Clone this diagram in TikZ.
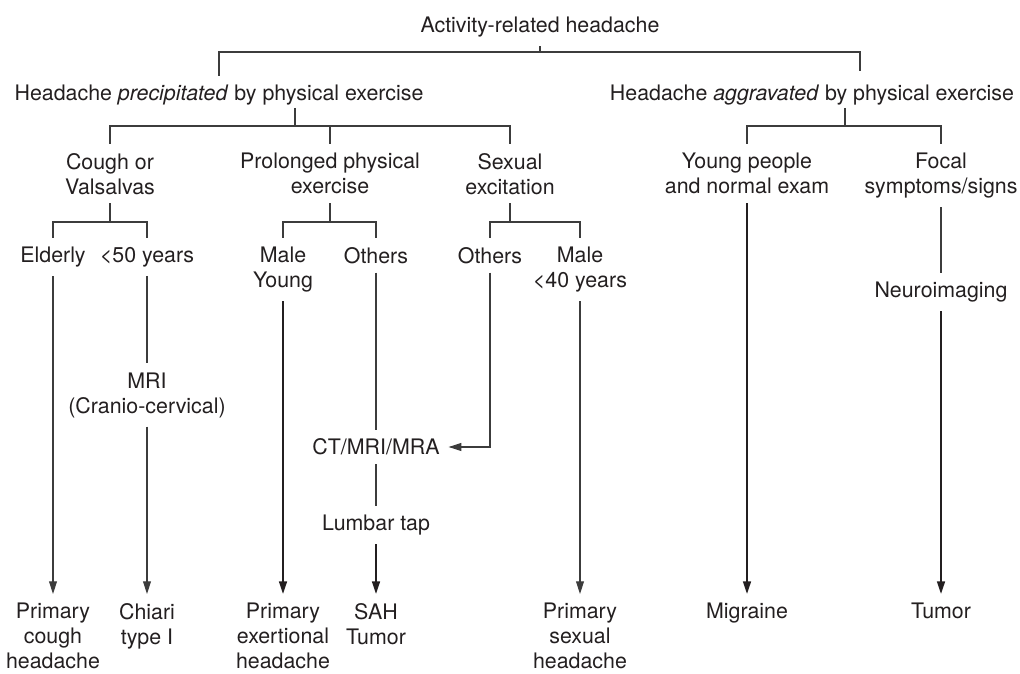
\documentclass[tikz,border=0pt]{standalone}
\usepackage{fontspec}
\setmainfont{TeX Gyre Heros}
\usepackage{tikz}
\usetikzlibrary{arrows.meta,positioning}
\definecolor{ink}{HTML}{231F20}
\definecolor{inkgray}{HTML}{3C3C3C}
\tikzset{
  lbl/.style={align=center,inner sep=0.22cm,text=ink,
              font=\fontsize{15.2}{17.8}\selectfont},
  outcome/.style={lbl,anchor=north},
  tree/.style={draw=inkgray,line width=0.75pt},
  arr/.style={tree,-{Triangle[length=9pt,width=5.6pt]}},
  boldarr/.style={arr,draw=ink,line width=1.4pt}
}
\begin{document}
\begin{tikzpicture}[x=0.025cm,y=-0.025cm]
  \path[use as bounding box] (0,0) rectangle (1020,674);
  % top two levels
  \node[lbl] (act) at (540,27) {Activity-related headache};
  \node[lbl] (pre) at (219,95) {Headache \textit{precipitated} by physical exercise};
  \node[lbl] (agg) at (812,95) {Headache \textit{aggravated} by physical exercise};
  % kinds of exercise / patients
  \node[outcome] (cgh) at (110,144) {Cough or\\Valsalvas};
  \node[outcome] (pro) at (330,144) {Prolonged physical\\exercise};
  \node[outcome] (sex) at (510,144) {Sexual\\excitation};
  \node[outcome] (yng) at (747,144) {Young people\\and normal exam};
  \node[outcome] (foc) at (941,144) {Focal\\symptoms/signs};
  \node[outcome] (eld) at (53,238) {Elderly};
  \node[outcome] (u50) at (147,238) {<50 years};
  \node[outcome] (myg) at (283,238) {Male\\Young};
  \node[outcome] (oth1) at (376,238) {Others};
  \node[outcome] (oth2) at (490,238) {Others};
  \node[outcome] (m40) at (580,238) {Male\\<40 years};
  % tests
  \node[lbl] (neu) at (941,292) {Neuroimaging};
  \node[lbl] (mri) at (147,395) {MRI\\(Cranio-cervical)};
  \node[lbl] (ctm) at (376,447) {CT/MRI/MRA};
  \node[lbl] (lum) at (376,525) {Lumbar tap};
  % diagnoses
  \node[outcome] (pch) at (53,594) {Primary\\cough\\headache};
  \node[outcome] (chi) at (147,594) {Chiari\\type I};
  \node[outcome] (pex) at (283,594) {Primary\\exertional\\headache};
  \node[outcome] (sah) at (376,594) {SAH\\Tumor};
  \node[outcome] (psx) at (580,594) {Primary\\sexual\\headache};
  \node[outcome] (mig) at (747,594) {Migraine};
  \node[outcome] (tum) at (941,594) {Tumor};

  % branching bars
  \coordinate (j1) at (540,52);
  \coordinate (aggin) at (860,71);
  \coordinate (preout) at (295,108);
  \coordinate (j2) at (295,126);
  \coordinate (aggout) at (845,108);
  \coordinate (j3) at (845,126);
  \coordinate (j4) at (110,222);
  \coordinate (j5) at (330,222);
  \coordinate (j6) at (510,222);
  \draw[tree] (act) -- (j1);
  \draw[tree] (pre) |- (j1) -| (aggin);
  \draw[tree] (preout) -- (j2);
  \draw[tree] (cgh) |- (j2) -| (sex);
  \draw[tree] (pro) -- (pro |- j2);
  \draw[tree] (aggout) -- (j3);
  \draw[tree] (yng) |- (j3) -| (foc);
  \draw[tree] (cgh) -- (j4);
  \draw[tree] (eld) |- (j4) -| (u50);
  \draw[tree] (pro) -- (j5);
  \draw[tree] (myg) |- (j5) -| (oth1);
  \draw[tree] (sex) -- (j6);
  \draw[tree] (oth2) |- (j6) -| (m40);

  % work-up
  \draw[arr] (eld) -- (pch);
  \draw[tree] (u50) -- (mri);
  \draw[arr] (mri) -- (chi);
  \draw[boldarr] (myg) -- (pex);
  \draw[tree] (oth1) -- (ctm);
  \draw[arr] (oth2) |- (ctm);
  \draw[tree] (ctm) -- (lum);
  \draw[boldarr] (lum) -- (sah);
  \draw[arr] (m40) -- (psx);
  \draw[boldarr] (yng) -- (mig);
  \draw[tree] (foc) -- (neu);
  \draw[boldarr] (neu) -- (tum);
\end{tikzpicture}
\end{document}
